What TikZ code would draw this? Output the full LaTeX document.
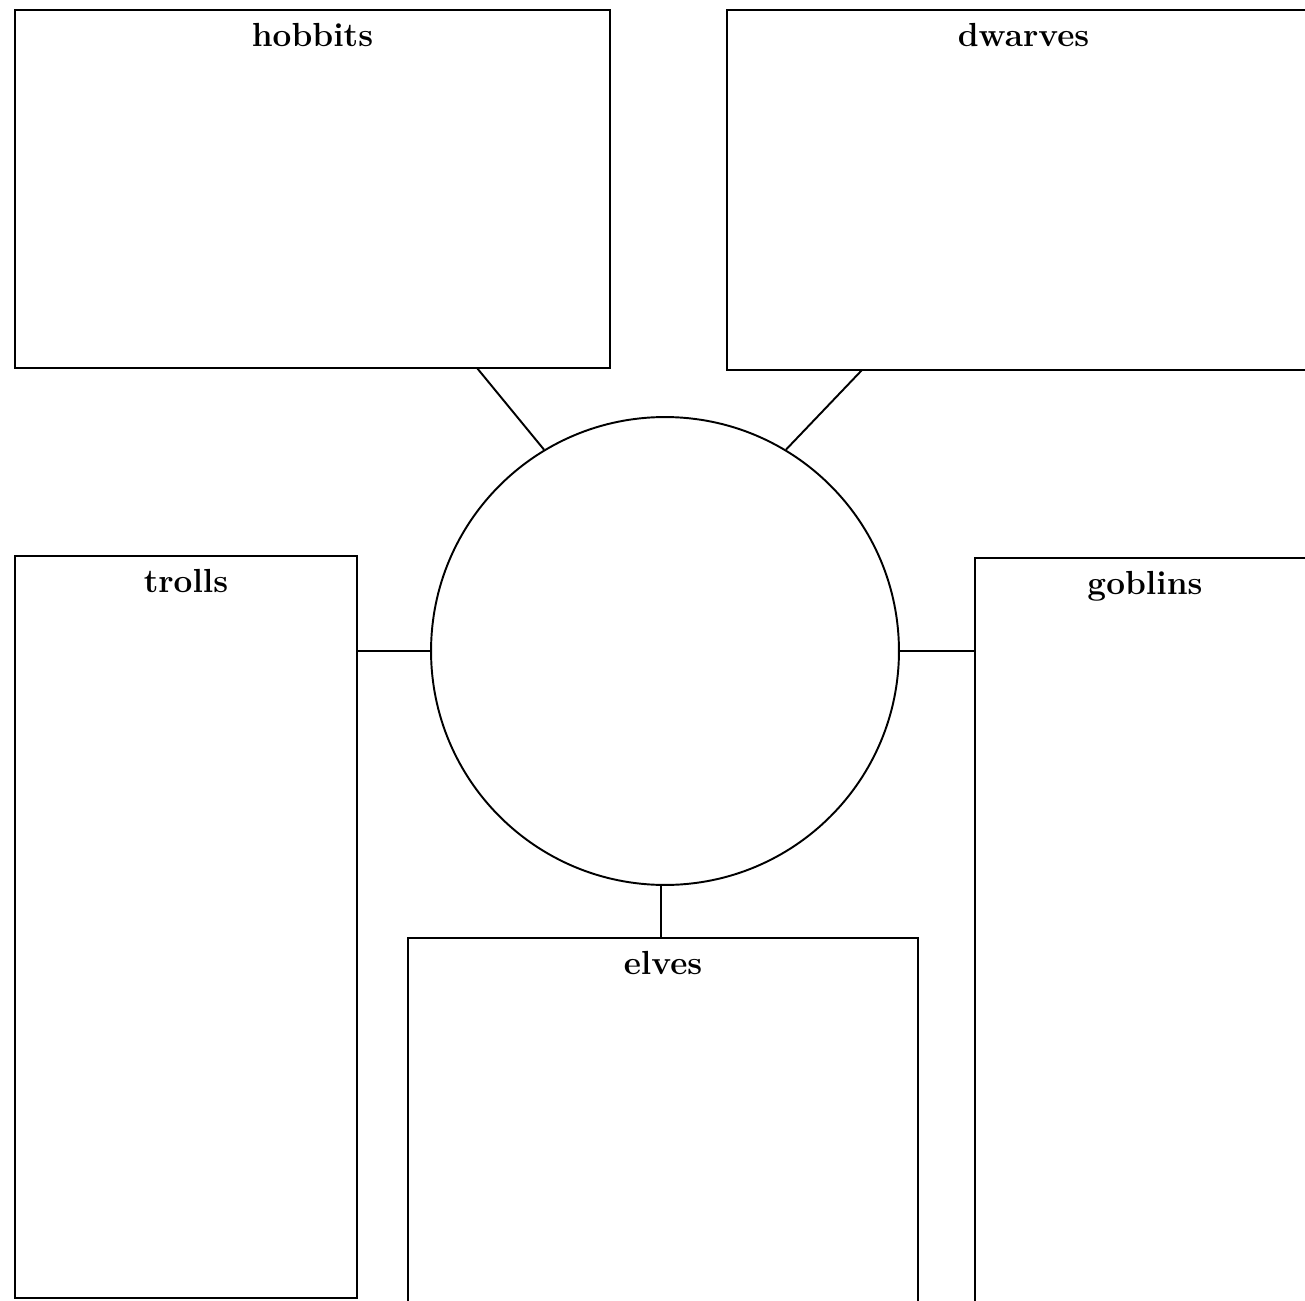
\documentclass[tikz,border=0pt]{standalone}
\usetikzlibrary{positioning}
\begin{document}
\begin{tikzpicture}[x=0.02cm, y=-0.02cm,
  box/.style={draw, line width=1.5pt, inner sep=0pt},
  title/.style={font=\fontsize{19}{22}\selectfont\bfseries, inner sep=2pt},
  link/.style={line width=1.1pt}]
\useasboundingbox (0,0) rectangle (1305,1301);
\clip (0,0) rectangle (1305,1301);
\node[box,minimum width=11.9cm,minimum height=7.16cm] (hob) at (312.5,189) {};
\node[box,minimum width=11.86cm,minimum height=7.2cm] (dwa) at (1023.5,190) {};
\node[box,minimum width=6.84cm,minimum height=14.84cm] (tro) at (186,927) {};
\node[box,minimum width=6.8cm,minimum height=15.44cm] (gob) at (1145,944) {};
\node[box,minimum width=10.2cm,minimum height=7.84cm] (elv) at (663,1134) {};
\node[draw,circle,line width=1.1pt,inner sep=0pt,minimum size=9.36cm] (circ) at (665,651) {};
\node[title,below=0.22cm of hob.north] {hobbits};
\node[title,below=0.22cm of dwa.north] {dwarves};
\node[title,below=0.22cm of tro.north] {trolls};
\node[title,below=0.22cm of gob.north] {goblins};
\node[title,below=0.22cm of elv.north] {elves};
\coordinate (hobfoot) at (477,368);
\coordinate (dwafoot) at (862,370);
\draw[link] (hobfoot) -- (circ.121);
\draw[link] (dwafoot) -- (circ.59);
\draw[link] (circ.west -| tro.east) -- (circ.west);
\draw[link] (circ.east) -- (circ.east -| gob.west);
\draw[link] (circ.269) -- (circ.269 |- elv.north);
\end{tikzpicture}
\end{document}
